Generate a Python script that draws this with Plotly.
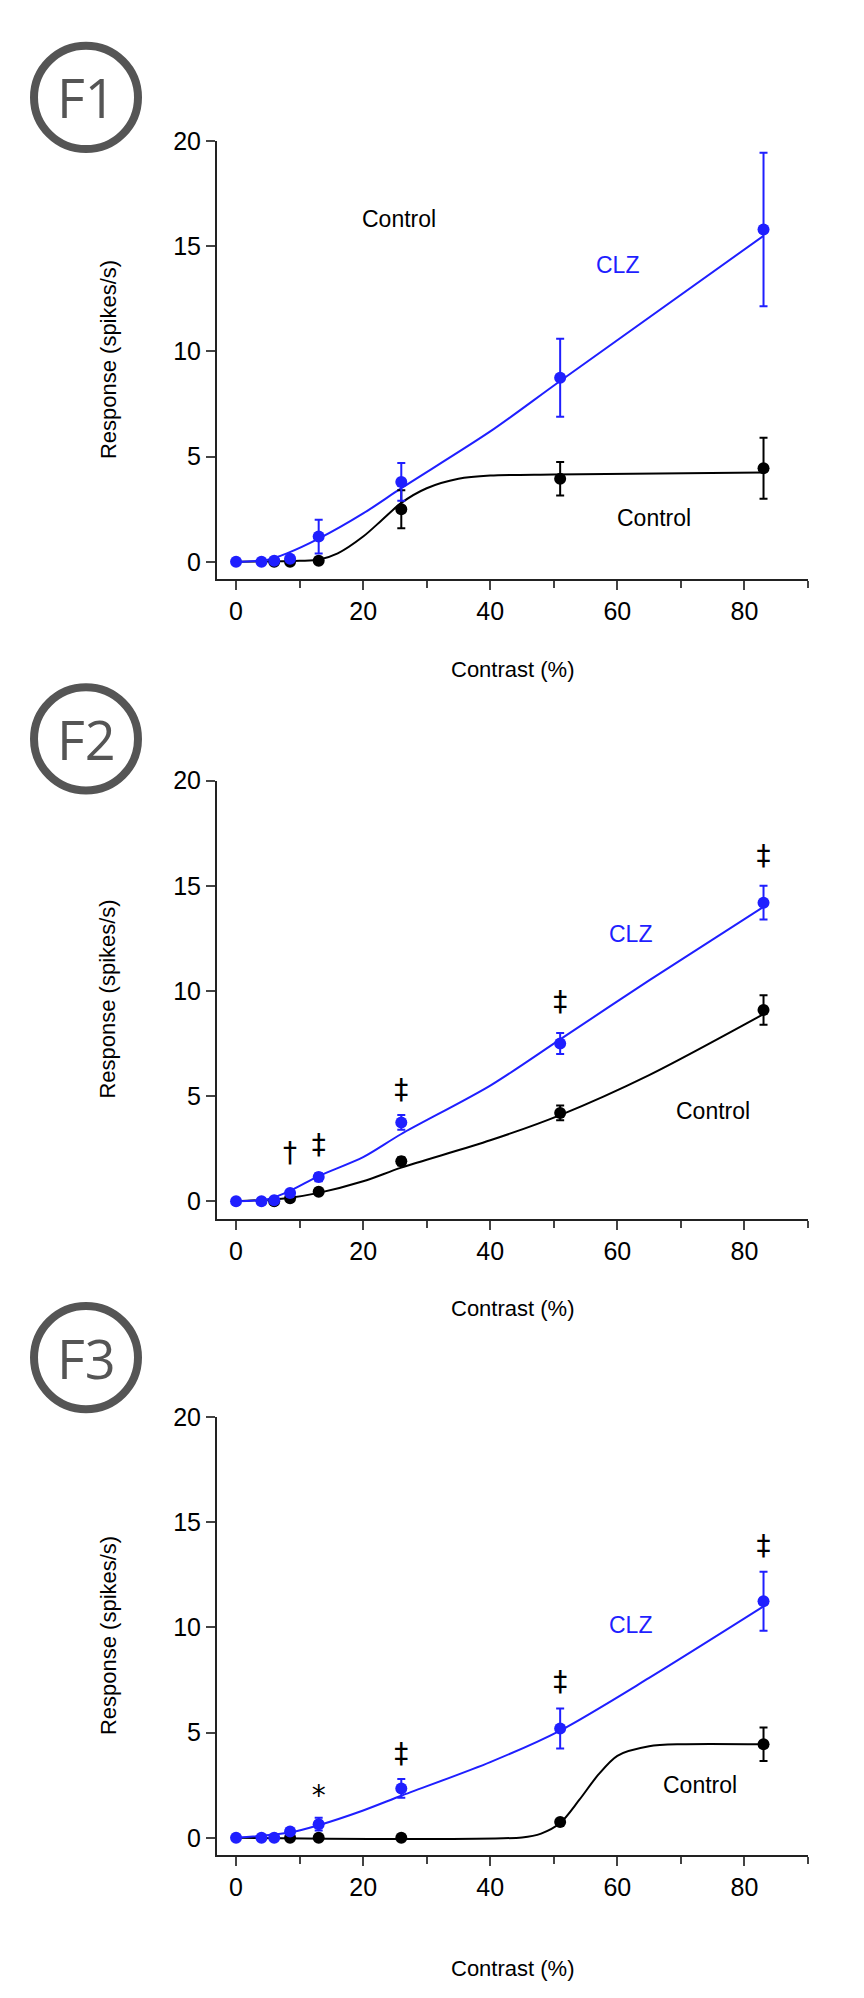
import plotly.graph_objects as go

W, H = 864, 1998
BLUE = "#1f1fff"
contrast = [0, 4, 6, 8.5, 13, 26, 51, 83]

# Panel F1
f1_clz = [0, 0, 0.05, 0.15, 1.2, 3.8, 8.75, 15.8]
f1_clz_err = [0, 0, 0, 0, 0.8, 0.9, 1.85, 3.65]
f1_ctl = [0, 0, 0, 0, 0.05, 2.5, 3.95, 4.45]
f1_ctl_err = [0, 0, 0, 0, 0, 0.9, 0.8, 1.45]
f1_ctl_fit_x = [0, 10, 13, 16, 20, 23, 26, 30, 35, 40, 50, 83]
f1_ctl_fit_y = [0, 0.05, 0.1, 0.4, 1.2, 2.0, 2.8, 3.5, 3.95, 4.1, 4.15, 4.25]
f1_clz_fit_x = [0, 5, 8, 13, 20, 26, 40, 51, 83]
f1_clz_fit_y = [0, 0.1, 0.4, 1.1, 2.3, 3.5, 6.2, 8.6, 15.5]

# Panel F2
f2_clz = [0, 0, 0.05, 0.4, 1.15, 3.75, 7.5, 14.2]
f2_clz_err = [0, 0, 0, 0, 0.2, 0.35, 0.5, 0.8]
f2_ctl = [0, 0, 0, 0.15, 0.45, 1.9, 4.2, 9.1]
f2_ctl_err = [0, 0, 0, 0, 0.1, 0.2, 0.35, 0.7]
f2_clz_fit_x = [0, 5, 8.5, 13, 20, 26, 40, 51, 65, 83]
f2_clz_fit_y = [0, 0.1, 0.5, 1.2, 2.1, 3.2, 5.5, 7.7, 10.5, 14.0]
f2_ctl_fit_x = [0, 8, 13, 20, 26, 40, 51, 65, 83]
f2_ctl_fit_y = [0, 0.15, 0.4, 0.95, 1.6, 2.9, 4.1, 6.0, 8.9]
f2_sig_x = [8.5, 13, 26, 51, 83]
f2_sig_y = [2.2, 2.6, 5.2, 9.4, 16.3]
f2_sig_t = ["†", "‡", "‡", "‡", "‡"]

# Panel F3
f3_clz = [0, 0, 0, 0.3, 0.65, 2.35, 5.2, 11.25]
f3_clz_err = [0, 0, 0, 0, 0.3, 0.45, 0.95, 1.4]
f3_ctl = [0, 0, 0, 0, 0, 0, 0.75, 4.45]
f3_ctl_err = [0, 0, 0, 0, 0, 0, 0, 0.8]
f3_clz_fit_x = [0, 8.5, 13, 20, 26, 40, 51, 65, 83]
f3_clz_fit_y = [0, 0.25, 0.6, 1.3, 2.0, 3.6, 5.1, 7.6, 11.0]
f3_ctl_fit_x = [0, 45, 48, 51, 54, 57, 60, 65, 70, 83]
f3_ctl_fit_y = [0, 0.02, 0.2, 0.7, 1.8, 3.0, 3.9, 4.35, 4.45, 4.45]
f3_sig_x = [13, 26, 51, 83]
f3_sig_y = [1.9, 3.9, 7.3, 13.8]
f3_sig_t = ["*", "‡", "‡", "‡"]

panels = [
    dict(name="F1", clz=f1_clz, clze=f1_clz_err, ctl=f1_ctl, ctle=f1_ctl_err,
         cfx=f1_ctl_fit_x, cfy=f1_ctl_fit_y, bfx=f1_clz_fit_x, bfy=f1_clz_fit_y,
         sx=[], sy=[], st=[], top=120, bot=561, circ=76, xt=652,
         labels=[("Control", 25.7, 16.3, "black"), ("CLZ", 60, 14.1, BLUE), ("Control", 65.7, 2.1, "black")]),
    dict(name="F2", clz=f2_clz, clze=f2_clz_err, ctl=f2_ctl, ctle=f2_ctl_err,
         cfx=f2_ctl_fit_x, cfy=f2_ctl_fit_y, bfx=f2_clz_fit_x, bfy=f2_clz_fit_y,
         sx=f2_sig_x, sy=f2_sig_y, st=f2_sig_t, top=764, bot=1205, circ=722, xt=1296,
         labels=[("CLZ", 62, 12.7, BLUE), ("Control", 75, 4.3, "black")]),
    dict(name="F3", clz=f3_clz, clze=f3_clz_err, ctl=f3_ctl, ctle=f3_ctl_err,
         cfx=f3_ctl_fit_x, cfy=f3_ctl_fit_y, bfx=f3_clz_fit_x, bfy=f3_clz_fit_y,
         sx=f3_sig_x, sy=f3_sig_y, st=f3_sig_t, top=1405, bot=1846, circ=1345, xt=1960,
         labels=[("CLZ", 62, 10.1, BLUE), ("Control", 73, 2.5, "black")]),
]

fig = go.Figure()
X0, X1 = 209, 800
layout = {}
annotations = []
shapes = []
for i, p in enumerate(panels, start=1):
    xa = "x" if i == 1 else f"x{i}"
    ya = "y" if i == 1 else f"y{i}"
    fig.add_trace(go.Scatter(x=p["cfx"], y=p["cfy"], mode="lines", line=dict(color="black", width=2, shape="spline", smoothing=0.8),
                             xaxis=xa, yaxis=ya, showlegend=False))
    fig.add_trace(go.Scatter(x=p["bfx"], y=p["bfy"], mode="lines", line=dict(color=BLUE, width=2, shape="spline", smoothing=0.8),
                             xaxis=xa, yaxis=ya, showlegend=False))
    cx = [c for c in contrast if c > 5] if i < 3 else [c for c in contrast if c > 8]
    idx = [contrast.index(c) for c in cx]
    fig.add_trace(go.Scatter(x=cx, y=[p["ctl"][k] for k in idx], mode="markers",
                             marker=dict(color="black", size=12),
                             error_y=dict(array=[p["ctle"][k] for k in idx], color="black", thickness=2, width=4),
                             xaxis=xa, yaxis=ya, showlegend=False))
    fig.add_trace(go.Scatter(x=contrast, y=p["clz"], mode="markers",
                             marker=dict(color=BLUE, size=12),
                             error_y=dict(array=p["clze"], color=BLUE, thickness=2, width=4),
                             xaxis=xa, yaxis=ya, showlegend=False))
    if p["sx"]:
        fig.add_trace(go.Scatter(x=p["sx"], y=p["sy"], mode="text", text=p["st"],
                                 textfont=dict(size=28, color="black", family="DejaVu Sans"),
                                 xaxis=xa, yaxis=ya, showlegend=False))
    dom_y = [1 - p["bot"] / H, 1 - p["top"] / H]
    common_font = dict(family="Liberation Sans, Arial", size=25, color="black")
    layout["xaxis" if i == 1 else f"xaxis{i}"] = dict(
        domain=[X0 / W, X1 / W], range=[-3, 90], anchor=ya, tickvals=[0, 20, 40, 60, 80],
        ticks="outside", ticklen=9, tickwidth=2, showline=True, linewidth=2, linecolor="#222",
        showgrid=False, zeroline=False, tickfont=common_font,
        minor=dict(tickvals=[10, 30, 50, 70, 90], ticks="outside", ticklen=7, tickwidth=2))
    layout["yaxis" if i == 1 else f"yaxis{i}"] = dict(
        domain=dom_y, range=[-0.82, 20], anchor=xa, tickvals=[0, 5, 10, 15, 20],
        ticks="outside", ticklen=9, tickwidth=2, showline=True, linewidth=2, linecolor="#222",
        showgrid=False, zeroline=False, tickfont=common_font)
    annotations.append(dict(text="Response (spikes/s)", x=100 / W, y=1 - (p["top"] + p["bot"]) / 2 / H,
                            xref="paper", yref="paper", textangle=-90, showarrow=False,
                            xanchor="center", yanchor="middle",
                            font=dict(family="Liberation Sans, Arial", size=22, color="black")))
    annotations.append(dict(text="Contrast (%)", x=(X0 + X1) / 2 / W, y=1 - p["xt"] / H,
                            xref="paper", yref="paper", showarrow=False,
                            xanchor="center", yanchor="middle",
                            font=dict(family="Liberation Sans, Arial", size=22, color="black")))
    for t, lx, ly, col in p["labels"]:
        annotations.append(dict(text=t, x=lx, y=ly, xref=xa, yref=ya, showarrow=False,
                                font=dict(family="Liberation Sans, Arial", size=23, color=col)))
    r = 52
    cy = p["circ"]
    shapes.append(dict(type="circle", xref="paper", yref="paper",
                       x0=(78 - r) / W, x1=(78 + r) / W, y0=1 - (cy + r) / H, y1=1 - (cy - r) / H,
                       line=dict(color="#555555", width=8)))
    annotations.append(dict(text=p["name"], x=78 / W, y=1 - cy / H, xref="paper", yref="paper",
                            xanchor="center", yanchor="middle",
                            showarrow=False, font=dict(family="Open Sans", size=54, color="#555555")))

fig.update_layout(width=W, height=H, margin=dict(l=0, r=0, t=0, b=0),
                  paper_bgcolor="white", plot_bgcolor="white",
                  annotations=annotations, shapes=shapes, **layout)
fig.write_html("out.html")
